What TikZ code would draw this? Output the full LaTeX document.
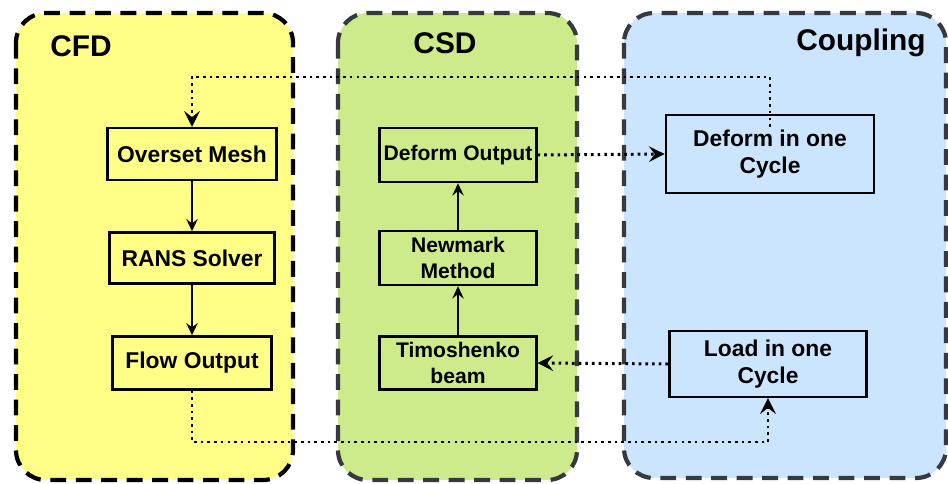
\documentclass[tikz,border=0pt]{standalone}
\usepackage{fontspec}
\setmainfont{Liberation Sans}
\usetikzlibrary{arrows.meta}
\definecolor{cfdfill}{HTML}{FFFF88}
\definecolor{csdfill}{HTML}{CDEB8B}
\definecolor{cplfill}{HTML}{CCE5FF}
\definecolor{panelline}{HTML}{36393D}
\tikzset{
  panel/.style={rounded corners=17pt, line width=2.4pt, dash pattern=on 9pt off 5.5pt},
  title/.style={font=\fontsize{17}{19}\selectfont\bfseries, inner sep=0pt},
  stepbox/.style={draw=black, line width=1.5pt, align=center, inner sep=1pt,
    font=\fontsize{13}{15.5}\selectfont\bfseries},
  smallbox/.style={stepbox, font=\fontsize{12}{15}\selectfont\bfseries},
  flow/.style={line width=1.1pt, -{Stealth[length=7pt, width=6.5pt, inset=2.5pt]}},
  link/.style={line width=1.7pt, dash pattern=on 1.5pt off 2.3pt,
    -{Stealth[length=9pt, width=9pt, inset=3.5pt, line width=0.5pt]}},
}
\begin{document}
\begin{tikzpicture}[x=0.02cm, y=-0.02cm]
  \useasboundingbox (0,0) rectangle (948,484);
  \clip (0,0) rectangle (948,484);

  % panels
  \draw[panel, fill=cfdfill, draw=black] (16,13) rectangle (293,480);
  \draw[panel, fill=csdfill, draw=panelline] (338,13) rectangle (577,480);
  \draw[panel, fill=cplfill, draw=panelline] (624,13) rectangle (946,478);

  \node[title] (tcfd) at (81,46) {CFD};
  \node[title] (tcsd) at (445,43) {CSD};
  \node[title] (tcpl) at (861,43) {Coupling};

  % CFD chain
  \node[stepbox, minimum width=170*0.567pt, minimum height=52*0.567pt] (ovm) at (192,154) {Overset Mesh};
  \node[stepbox, minimum width=165*0.567pt, minimum height=51*0.567pt] (rans) at (192,258) {RANS Solver};
  \node[stepbox, minimum width=159*0.567pt, minimum height=53*0.567pt] (flowout) at (192,363) {Flow Output};

  % CSD chain
  \node[smallbox, minimum width=157*0.567pt, minimum height=54*0.567pt] (dout) at (458,155) {Deform Output};
  \node[smallbox, minimum width=157*0.567pt, minimum height=54*0.567pt] (newm) at (458,258) {Newmark\\Method};
  \node[smallbox, minimum width=157*0.567pt, minimum height=53*0.567pt] (timo) at (458,363) {Timoshenko\\beam};

  % coupling boxes
  \node[stepbox, minimum width=209*0.567pt, minimum height=78*0.567pt] (dcyc) at (770,154) {Deform in one\\Cycle};
  \node[stepbox, minimum width=198*0.567pt, minimum height=66*0.567pt] (lcyc) at (768,364) {Load in one\\Cycle};

  \coordinate (topline) at (0,77);
  \coordinate (botline) at (0,442);

  % solid flow arrows
  \draw[flow] (ovm) -- (rans);
  \draw[flow] (rans) -- (flowout);
  \draw[flow] (timo) -- (newm);
  \draw[flow] (newm) -- (dout);

  % dotted coupling links
  \draw[link] (dout.east) -- (dcyc.west);
  \draw[link] ([yshift=-7.4pt]dcyc.north) -- (dcyc.north |- topline) -| (ovm.north);
  \draw[link] (lcyc.west) -- (timo.east);
  \draw[link] (flowout.south) -- (flowout.south |- botline) -| (lcyc.south);
\end{tikzpicture}
\end{document}
